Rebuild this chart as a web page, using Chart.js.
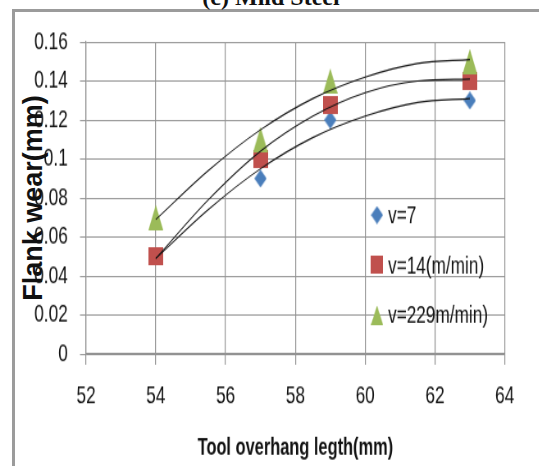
<!DOCTYPE html>
<html>
<head>
<meta charset="utf-8">
<script src="https://cdn.jsdelivr.net/npm/chart.js@4.4.0/dist/chart.umd.min.js"></script>
<style>
  html, body { margin: 0; padding: 0; background: #fff; overflow: hidden; width: 539px; height: 466px; }
  #frame { position: absolute; left: 12px; top: 9px; width: 700px; height: 700px; border: 3px solid #9b9b9b; }
  #caption { position: absolute; left: 0; width: 542px; top: -16px; line-height: 24px; text-align: center;
             font: bold 24px "Liberation Serif", "Times New Roman", serif; color: #111; }
  #ytitle { position: absolute; left: 33px; top: 198px; white-space: nowrap; line-height: 27px;
            transform: translate(-50%, -50%) rotate(-90deg);
            font: bold 27px "Liberation Sans", Arial, sans-serif; color: #111; }
  /* the reference is a squeezed / stretched Excel picture: narrow glyphs, tall marks */
  #wrap { position: absolute; left: 0; top: 0; width: 657px; height: 388px; transform: scale(0.82, 1.2); transform-origin: 0 0; }
</style>
</head>
<body>
<div id="frame"></div>
<div id="caption">(c) Mild Steel</div>
<div id="ytitle">Flank wear(mm)</div>
<div id="wrap"><canvas id="chart" width="657" height="388"></canvas></div>
<script>
// measured points
const overhang = [54, 57, 59, 63];
const wearV7 = [0.05, 0.09, 0.12, 0.13];
const wearV14 = [0.05, 0.10, 0.128, 0.14];
const wearV229 = [0.07, 0.11, 0.14, 0.15];

// trend curves
const trendX = [54, 55.5, 57, 58.5, 60, 61.5, 63];
const trendV7 = [0.049, 0.074, 0.095, 0.111, 0.122, 0.129, 0.131];
const trendV14 = [0.049, 0.079, 0.104, 0.122, 0.134, 0.140, 0.141];
const trendV229 = [0.069, 0.094, 0.115, 0.131, 0.142, 0.149, 0.151];

const seriesLabels = ['v=7', 'v=14(m/min)', 'v=229m/min)'];
const xTicks = { min: 52, max: 64, step: 2 };
const yTicks = { min: 0, max: 0.16, step: 0.02 };

// css scale of #wrap, used to turn screen pixels into canvas pixels
const SX = 0.82, SY = 1.2;
const FONT = '"Liberation Sans", Arial, sans-serif';
const GRID = '#929292';

// marker sprites (Excel style: diamond, square, tall triangle)
function sprite(w, h, color, draw) {
    const c = document.createElement('canvas');
    c.width = Math.round(w); c.height = Math.round(h);
    const g = c.getContext('2d');
    g.fillStyle = color;
    g.beginPath();
    draw(g, c.width, c.height);
    g.closePath();
    g.fill();
    return c;
}
const diamond = sprite(12 / SX, 15, '#4a7ebb', (g, w, h) => {
    g.moveTo(w / 2, 0); g.lineTo(w, h / 2); g.lineTo(w / 2, h); g.lineTo(0, h / 2);
});
const square = sprite(15 / SX, 15, '#c0504d', (g, w, h) => { g.rect(0, 0, w, h); });
const triangle = sprite(15 / SX, 21, '#9bbb59', (g, w, h) => {
    g.moveTo(w / 2, 0); g.lineTo(w, h); g.lineTo(0, h);
});

const toPoints = (xs, ys) => xs.map((x, i) => ({x: x, y: ys[i]}));

const markerDataset = (label, ys, img, order) => ({
    label: label,
    data: toPoints(overhang, ys),
    pointStyle: img,
    pointRadius: 9,
    pointHoverRadius: 9,
    showLine: false,
    order: order,
    legendImg: img
});

const trendDataset = (ys) => ({
    label: '',
    data: toPoints(trendX, ys),
    showLine: true,
    borderColor: '#111',
    borderWidth: 1.1,
    pointRadius: 0,
    cubicInterpolationMode: 'monotone',
    fill: false,
    order: 0,
    isTrend: true
});

// legend drawn inside the plot like the Excel one
const insideLegend = {
    id: 'insideLegend',
    afterDraw(chart, args, opts) {
        const ctx = chart.ctx;
        ctx.save();
        ctx.font = '21px ' + FONT;
        ctx.fillStyle = '#111';
        ctx.textBaseline = 'middle';
        ctx.textAlign = 'left';
        chart.data.datasets.filter(d => !d.isTrend).forEach((d, i) => {
            const y = opts.y + i * opts.gap;
            const img = d.legendImg;
            const w = 12 / SX;
            const h = Math.min(img.height, 16);
            ctx.drawImage(img, opts.x - w / 2, y - h / 2, w, h);
            ctx.fillText(d.label, opts.x + opts.textGap, y + 1);
        });
        ctx.restore();
    }
};

new Chart(document.getElementById('chart'), {
    type: 'scatter',
    data: {
        datasets: [
            markerDataset(seriesLabels[0], wearV7, diamond, 3),
            markerDataset(seriesLabels[1], wearV14, square, 2),
            markerDataset(seriesLabels[2], wearV229, triangle, 1),
            trendDataset(trendV7),
            trendDataset(trendV14),
            trendDataset(trendV229)
        ]
    },
    options: {
        responsive: false,
        animation: false,
        layout: { padding: { left: 0, top: 42 / SY, right: 34 / SX, bottom: 0 } },
        scales: {
            x: {
                type: 'linear',
                min: xTicks.min,
                max: xTicks.max,
                afterFit: (s) => { s.height = 388 - 354 / SY; },
                ticks: {
                    stepSize: xTicks.step,
                    color: '#111',
                    padding: 14,
                    font: { family: FONT, size: 21 }
                },
                grid: { color: GRID, lineWidth: 1.2, tickLength: 9 },
                border: { color: GRID, width: 1.2 },
                title: {
                    display: true,
                    text: 'Tool overhang legth(mm)',
                    color: '#111',
                    font: { family: FONT, size: 20, weight: 'bold' },
                    padding: { top: 0, bottom: 3 }
                }
            },
            y: {
                min: yTicks.min,
                max: yTicks.max,
                afterFit: (s) => { s.width = 86 / SX; },
                ticks: {
                    stepSize: yTicks.step,
                    color: '#111',
                    padding: 15,
                    font: { family: FONT, size: 21 },
                    callback: (v) => String(+v.toFixed(2))
                },
                grid: { color: GRID, lineWidth: 1, tickLength: 6 / SX },
                border: { color: GRID, width: 1.2 }
            }
        },
        plugins: {
            legend: { display: false },
            tooltip: { enabled: false },
            insideLegend: { x: 377 / SX, y: 215 / SY, gap: 50 / SY, textGap: 11 / SX }
        }
    },
    plugins: [insideLegend]
});
</script>
</body>
</html>
